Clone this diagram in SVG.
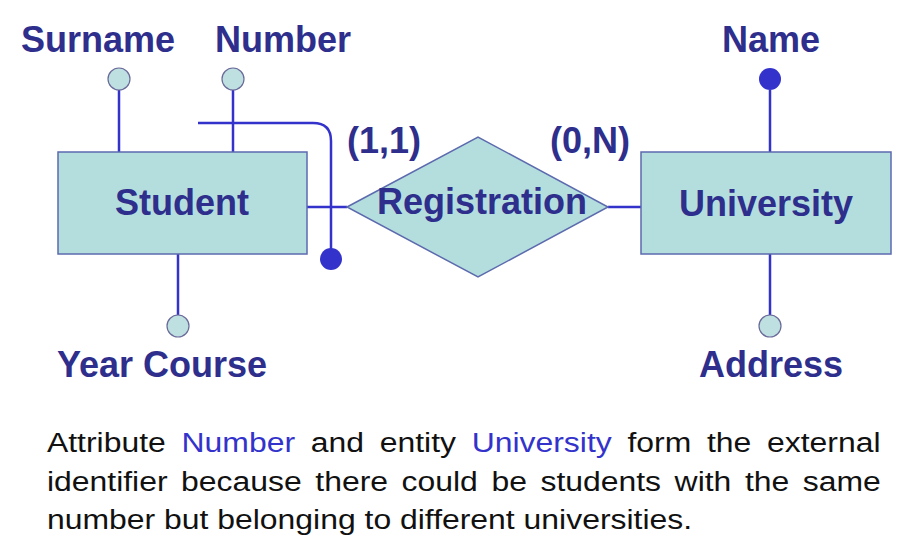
<svg xmlns="http://www.w3.org/2000/svg" width="900" height="548" viewBox="0 0 900 548">
<style>
.lbl{font-family:"Liberation Sans",Arial,sans-serif;font-weight:bold;font-size:36px;fill:#2e2e8c;text-anchor:middle}
.box{fill:#b4dede;stroke:#5c6aae;stroke-width:1.5}
.ln{stroke:#3333cc;stroke-width:2.5;fill:none}
.oc{fill:#bfe0e0;stroke:#6a6a9a;stroke-width:1.2}
.fc{fill:#3333cc}
.para{font-family:"Liberation Sans",Arial,sans-serif;font-size:28px;fill:#111}
.hl{fill:#3333cc}
</style>
<rect width="900" height="548" fill="#fff"/>
<g id="connectors">
<line class="ln" x1="119" y1="90" x2="119" y2="152"/>
<line class="ln" x1="233" y1="90" x2="233" y2="152"/>
<line class="ln" x1="178" y1="254" x2="178" y2="315"/>
<line class="ln" x1="770" y1="90" x2="770" y2="152"/>
<line class="ln" x1="770" y1="254" x2="770" y2="315"/>
<line class="ln" x1="307" y1="207" x2="347" y2="207"/>
<line class="ln" x1="608" y1="207" x2="641" y2="207"/>
<path class="ln" stroke-width="3.5" d="M198,123 H313 Q331,123 331,141 V259"/>
</g>
<g id="student">
<rect class="box" x="58" y="152" width="249" height="102"/>
<text class="lbl" x="182" y="215">Student</text>
</g>
<g id="registration">
<polygon class="box" points="347,207 478,137 608,207 478,277"/>
<text class="lbl" x="482" y="214">Registration</text>
</g>
<g id="university">
<rect class="box" x="641" y="152" width="250" height="102"/>
<text class="lbl" x="766" y="216">University</text>
</g>
<g id="attr-surname">
<circle class="oc" cx="119" cy="79" r="11"/>
<text class="lbl" x="98" y="52">Surname</text>
</g>
<g id="attr-number">
<circle class="oc" cx="233" cy="79" r="11"/>
<text class="lbl" x="283" y="52">Number</text>
</g>
<g id="attr-yearcourse">
<circle class="oc" cx="178" cy="326" r="11"/>
<text class="lbl" x="162" y="377">Year Course</text>
</g>
<g id="attr-name">
<circle class="fc" cx="770" cy="79" r="11"/>
<text class="lbl" x="771" y="52">Name</text>
</g>
<g id="attr-address">
<circle class="oc" cx="770" cy="326" r="11"/>
<text class="lbl" x="771" y="377">Address</text>
</g>
<g id="identifier-end">
<circle class="fc" cx="331" cy="259" r="11"/>
</g>
<g id="cardinalities">
<text class="lbl" x="384" y="153">(1,1)</text>
<text class="lbl" x="590" y="153">(0,N)</text>
</g>
<g id="caption" transform="scale(1.14 1)">
<text class="para" x="41.2" y="452" word-spacing="6">Attribute <tspan class="hl">Number</tspan> and entity <tspan class="hl">University</tspan> form the external</text>
<text class="para" x="41.2" y="491" word-spacing="4.1">identifier because there could be students with the same</text>
<text class="para" x="41.2" y="529">number but belonging to different universities.</text>
</g>
</svg>
